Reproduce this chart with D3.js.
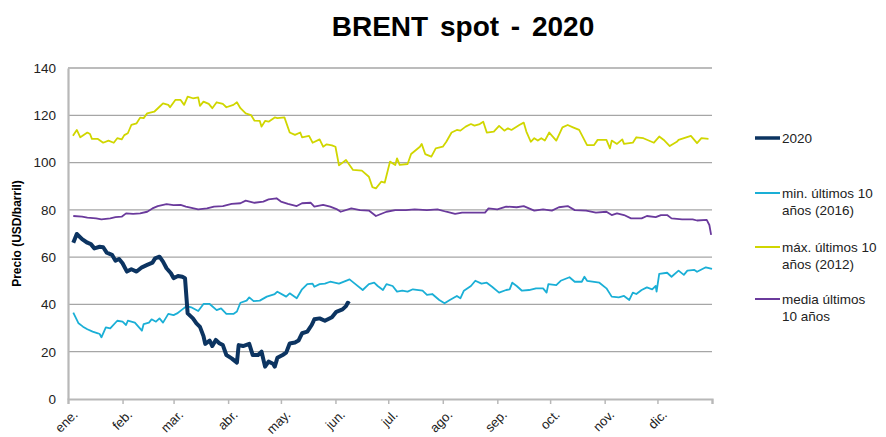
<!DOCTYPE html>
<html>
<head>
<meta charset="utf-8">
<script src="https://cdn.jsdelivr.net/npm/d3@7"></script>
<style>
  body { margin: 0; background: #fff; }
  text { font-family: "Liberation Sans", Arial, sans-serif; }
</style>
</head>
<body>
<script>
var width = 886,
    height = 437;

// [day of year, USD/barril]
var brent2020 = [[3,66.1],[5,69.8],[8,67.6],[11,66.1],[13,65.5],[15,63.7],[18,64.4],[20,64.2],[22,61.9],[25,61],
  [27,58.5],[29,59.2],[31,57.4],[33.5,53.9],[36,54.9],[39,53.9],[42,55.7],[45,56.7],[48,57.7],[49.5,59.5],
  [52,60.2],[54,58.1],[56,55.3],[58.5,53.2],[60,51.1],[62.5,52],[65,51.7],[66.5,51.1],[68,36.2],[71,34.1],
  [73,32],[75,30.5],[77,26.6],[78,23.3],[80.5,24.7],[82,22.4],[84,25],[86,23.6],[88,22.8],[90,18.6],
  [93,17.2],[96,15.4],[97,22.8],[99.5,22.4],[103,23.3],[105,18.6],[108,18.6],[110,20],[112,13.7],[114,15.8],
  [116.5,14.9],[117.5,13.7],[119,17.4],[122,18.6],[124,19.6],[126,23.5],[129,23.9],[131,24.7],[133,27.8],[136,28.5],
  [138.5,31.3],[140,33.7],[143,34.1],[146,33.1],[150,34.6],[152.5,36.9],[156,37.9],[158,39.3],[159,40.7],[160,40.2]];

var min2016 = [[3,36.5],[6,32],[8.5,30.6],[11,29.5],[14,28.5],[17,27.8],[18,27.5],[19,26.1],[21.5,30.3],[24,29.9],
  [28,33.1],[31,32.7],[33,31.3],[34,33.1],[38,32.3],[40,30.6],[42,28.9],[43,31.7],[46,32.3],[47.5,33.7],
  [50,32.7],[52,34.1],[54,32.3],[57,36],[60,35.5],[62,36.2],[65,37.9],[67.5,39.3],[70,38.8],[74,37.2],
  [77,40.2],[80.5,40.2],[84.5,37.6],[87,38.3],[90,36],[94,36],[96,37],[98,40.7],[101.5,41.6],[103,43],
  [105.5,41.4],[109,41.6],[113,43.3],[117.5,44.4],[119,45.4],[124,43.3],[126,44.7],[130,42.6],[133,46.4],[136,48.6],
  [139,48.8],[140,47.5],[143,48.6],[146,48.8],[149,49.6],[154,48.8],[159,50.3],[160,50.6],[163,48.8],[167.5,46.1],
  [171,48.6],[174,49.2],[176,47.8],[179,46.1],[181,48.6],[184.5,47.8],[187,45.4],[190,45.8],[193,45.4],[196,46.4],
  [201.5,45.8],[204,44],[207,44.4],[211,41.9],[214,40.5],[217,41.9],[221,43.6],[223,42.6],[225,45.8],[229,47.8],
  [231.5,50],[235,48.8],[238,49.2],[241,47.5],[245,45],[249,46.1],[251,46.4],[252.5,49.2],[255,47.8],[258,45.8],
  [262,46.1],[266,46.8],[270,46.8],[272,45],[273,48.6],[277.5,48.2],[280,50],[285,51.5],[288,49.6],[292,49.6],
  [293.5,51.7],[295,50],[302,49.2],[306,46.8],[309,43.3],[313,43],[316,43.6],[319,41.9],[321,45],[323,44.4],
  [326,46.1],[329,47.2],[332,46.4],[334,47.8],[334.5,45.4],[336,52.9],[340.5,53.4],[343,51.7],[347,54.3],[350,52.5],
  [352,54.3],[356,54.6],[357.5,53.8],[362.5,55.7],[366,55]];

var max2012 = [[2.8,111.3],[5,113.8],[7,110.7],[11,112.7],[12.5,112.1],[13.6,110],[17,110],[20,108.4],[23,109.3],[26,108.4],
  [28,110.3],[30.5,109.8],[32,111.6],[34,112.4],[36,115.9],[39,116.6],[41,119],[43,118.8],[45,120.8],[49,121.5],
  [52,123.6],[54,125],[57,124.4],[58,123.4],[61,126.5],[64,126.5],[66,124.4],[68,127.9],[71,127.2],[74,127.6],
  [75,124],[77,125.8],[80,124.8],[82,123],[84.5,125.5],[88,124.8],[90,123.4],[94,124.4],[96,125.5],[98,123],
  [101,120.8],[104,120.1],[106,117.7],[109,117.6],[110,115.2],[112,117.6],[114,117.3],[117.5,119.1],[119,118.8],[123,119.1],
  [126,112.7],[129,111.7],[132,112.7],[133,110.7],[137,111.3],[139,108.4],[143,109.8],[145,106.7],[147,107.7],[150,107.3],
  [152,106.7],[154,98.8],[158,101.1],[162,96.9],[167,96.6],[171,94],[173,89.6],[175,89.1],[178,91.9],[180,91.5],
  [183,100.4],[186,99],[187,101.8],[188.5,99],[193,99.4],[195,103.6],[200,106.7],[201,107.9],[203,103.6],[206.5,102.5],
  [209,106],[213,106.7],[215,108.8],[218,112.7],[221,113.8],[223,113.5],[226,115.2],[229,116.3],[231,115.6],[234,116.3],
  [236,117.3],[238,112.7],[242,113.1],[245,115.5],[248,113.5],[250,114.5],[252,113.8],[256.5,115.9],[259,116.9],[260.5,113.1],
  [263,108.8],[265,110.3],[267,109.3],[269,110.3],[271,109.3],[273.5,112.7],[277.5,109.3],[281,114.9],[284,115.9],[287,114.9],
  [290.5,113.8],[295,107.4],[299,107.4],[301,109.6],[306,109.6],[308,106],[309,109.3],[312,107.9],[315,109.8],[316,107.9],
  [321,108.4],[323,110.7],[327,110.3],[333,108.4],[336,111],[339,109.3],[342,107],[346,108.8],[347,109.6],[354,111.3],
  [357.5,108.2],[360,110.3],[364,110]];

var media10 = [[3,77.4],[8,77.1],[11,76.7],[16,76.4],[19,76],[24,76.4],[27,76.9],[30.5,77.1],[33,78.5],[37,78.3],
  [41,78.5],[45,79.2],[48,80.6],[51,81.6],[56,82.4],[60,82],[64,82.1],[67,81.4],[74,80.2],[79,80.6],
  [83,81.4],[88,81.6],[93,82.5],[98,82.8],[101,83.9],[106,83],[111,83.5],[114,84.4],[118.5,84.9],[121,83.5],
  [125,82.5],[130,81.6],[133,82.8],[138,83],[140,81.4],[145,82.1],[149,81.4],[153,80.2],[155,79.2],[161,80.6],
  [166,79.9],[171,79.7],[175,77.4],[181,79.2],[186,79.9],[192,79.9],[197,80.2],[204,79.9],[210,80.2],[215,79.2],
  [220,78.3],[224,78.8],[230,78.8],[237,78.8],[239,80.6],[244,80.2],[249,81.4],[255,81.1],[259,81.6],[265,79.7],
  [270,80.2],[275,79.7],[279,81.1],[284,81.6],[288,79.9],[294.5,79.7],[300,78.8],[306,79.2],[309,77.8],[312,78.5],
  [316,77.8],[320,76.4],[326,76.4],[329,77.4],[334,76.9],[337,77.8],[340.5,77.8],[343,76.4],[349,76],[355,76],
  [357.5,75.5],[363,75.8],[364.5,73.6],[365.5,69.4]];

var monthLabels = ["ene.", "feb.", "mar.", "abr.", "may.", "jun.", "jul.", "ago.", "sep.", "oct.", "nov.", "dic."];
var yTicks = [0, 20, 40, 60, 80, 100, 120, 140];

var series = [
  {name: "2020", lines: ["2020"], data: brent2020, color: "#0c3461", w: 4, ly: 138},
  {name: "min", lines: ["min. últimos 10", "años (2016)"], data: min2016, color: "#1aafd6", w: 1.8, ly: 193},
  {name: "max", lines: ["máx. últimos 10", "años (2012)"], data: max2012, color: "#d0d600", w: 1.8, ly: 247},
  {name: "media", lines: ["media últimos", "10 años"], data: media10, color: "#6a3a9c", w: 1.8, ly: 299}
];

var margin = {left: 68, right: 174, top: 68, bottom: 38};
var start = new Date(2020, 0, 1), end = new Date(2021, 0, 1);

var x = d3.scaleTime().domain([start, end]).range([margin.left, width - margin.right]);
var y = d3.scaleLinear().domain([0, 140]).range([height - margin.bottom, margin.top]);

var svg = d3.select("body").append("svg")
    .attr("width", width)
    .attr("height", height);

// title
svg.append("text")
    .attr("x", 463).attr("y", 36)
    .attr("text-anchor", "middle")
    .style("font-size", "28px").style("font-weight", "bold")
    .attr("word-spacing", "4px")
    .text("BRENT spot - 2020");

// gridlines
svg.append("g").selectAll("line")
    .data(yTicks.slice(1))
    .enter().append("line")
    .attr("x1", margin.left).attr("x2", width - margin.right)
    .attr("y1", function(d) { return y(d); }).attr("y2", function(d) { return y(d); })
    .attr("stroke", "#a6a6a6").attr("stroke-width", 1.3);

// y axis
var yAxis = svg.append("g")
    .attr("transform", "translate(" + margin.left + ",0)")
    .call(d3.axisLeft(y).tickValues(yTicks).tickSize(0).tickPadding(12));
yAxis.select(".domain").attr("stroke", "#b8b8b8").attr("stroke-width", 2.2);
yAxis.selectAll("text").style("font-size", "13.5px").attr("fill", "#222");

svg.append("text")
    .attr("transform", "translate(21," + y(70) + ") rotate(-90)")
    .attr("text-anchor", "middle")
    .style("font-size", "12px").style("font-weight", "bold")
    .text("Precio (USD/barril)");

// x axis
var months = d3.timeMonth.range(start, d3.timeDay.offset(end, 1));
var xAxis = svg.append("g")
    .attr("transform", "translate(0," + y(0) + ")")
    .call(d3.axisBottom(x).tickValues(months).tickSize(5).tickFormat(""));
xAxis.select(".domain").attr("stroke", "#b8b8b8").attr("stroke-width", 2.2);
xAxis.selectAll(".tick line").attr("stroke", "#b8b8b8").attr("stroke-width", 1.5);

svg.append("g").selectAll("text")
    .data(months.slice(0, 12))
    .enter().append("text")
    .attr("transform", function(d) { return "translate(" + (x(d) + 4) + "," + (y(0) + 10) + ") rotate(-45)"; })
    .attr("text-anchor", "end")
    .attr("dy", "0.7em")
    .style("font-size", "13px").attr("fill", "#222")
    .text(function(d, i) { return monthLabels[i]; });

// series
var line = d3.line()
    .x(function(d) { return x(d3.timeDay.offset(start, 0) .getTime() + d[0] * 864e5); })
    .y(function(d) { return y(d[1]); });

var order = [2, 3, 1, 0];
order.forEach(function(k) {
  var s = series[k];
  svg.append("path")
      .datum(s.data)
      .attr("fill", "none")
      .attr("stroke", s.color)
      .attr("stroke-width", s.w)
      .attr("stroke-linejoin", "round")
      .attr("d", line);
});

// legend
var legend = svg.append("g").selectAll("g")
    .data(series)
    .enter().append("g")
    .attr("transform", function(d) { return "translate(755," + d.ly + ")"; });

legend.append("line")
    .attr("x1", 0).attr("x2", 25)
    .attr("stroke", function(d) { return d.color; })
    .attr("stroke-width", function(d) { return d.w === 4 ? 3.5 : 2; });

legend.append("text")
    .attr("x", 27).attr("y", 5)
    .style("font-size", "13.5px").attr("fill", "#222")
    .selectAll("tspan")
    .data(function(d) { return d.lines; })
    .enter().append("tspan")
    .attr("x", 27)
    .attr("dy", function(d, i) { return i === 0 ? 0 : 17; })
    .text(function(d) { return d; });
</script>
</body>
</html>
